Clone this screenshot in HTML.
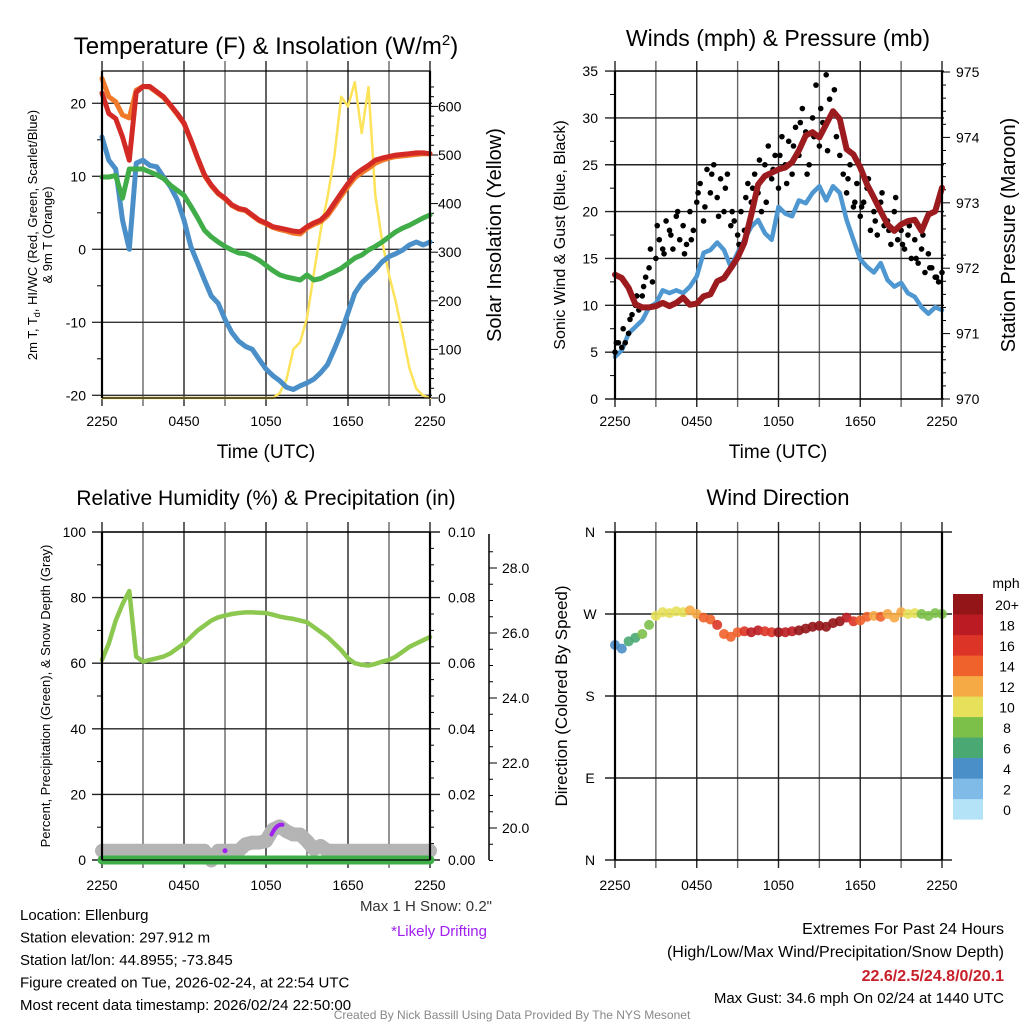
<!DOCTYPE html>
<html><head><meta charset="utf-8">
<style>
html,body{margin:0;padding:0;background:#fff;}
body{width:1024px;height:1024px;overflow:hidden;position:relative;font-family:"Liberation Sans",Arial,sans-serif;}
svg{position:absolute;left:0;top:0;}
svg text{font-family:"Liberation Sans",Arial,sans-serif;}
</style></head>
<body>
<svg id="s" width="1024" height="1024" viewBox="0 0 1024 1024"></svg>
<script>
// ---------- DATA ----------
const hours = [0,0.5,1,1.5,2,2.5,3,3.5,4,4.5,5,5.5,6,6.5,7,7.5,8,8.5,9,9.5,10,10.5,11,11.5,12,12.5,13,13.5,14,14.5,15,15.5,16,16.5,17,17.5,18,18.5,19,19.5,20,20.5,21,21.5,22,22.5,23,23.5,24];
const xTickLabels = ["2250","0450","1050","1650","2250"];
const tempRed = [21.4,18.6,17.9,15.4,12.2,21.5,22.3,22.3,21.6,20.9,19.8,18.6,17.3,15,12.5,10.2,8.8,7.7,7,6.1,5.6,5.4,4.7,4.0,3.6,3.1,2.9,2.7,2.5,2.4,3.1,3.6,4.0,4.9,6.3,7.7,9.0,10.2,10.9,11.5,12.2,12.5,12.7,12.9,13.0,13.1,13.2,13.2,13.1];
const temp9m = [23.4,20.9,20.2,18.4,18.0,21.8,22.3,22.2,21.5,20.8,19.7,18.5,17.2,14.9,12.4,10.1,8.7,7.6,6.9,6.0,5.5,5.3,4.6,3.9,3.5,3.0,2.7,2.5,2.2,2.1,2.9,3.4,3.8,4.6,5.9,7.3,8.6,9.8,10.5,11.1,11.8,12.2,12.5,12.7,12.8,12.9,13.0,13.1,13.1];
const dewpt = [9.9,9.9,10.1,7.0,11.0,11.0,11.0,10.6,10.2,9.7,8.8,8.1,7.4,5.9,4.3,2.6,1.7,1.0,0.4,-0.1,-0.5,-0.6,-1.0,-1.5,-2.2,-2.9,-3.5,-3.8,-4.0,-4.2,-3.5,-4.2,-4.0,-3.5,-3.1,-2.6,-1.9,-1.2,-0.8,-0.1,0.4,1.0,1.7,2.4,2.9,3.3,3.8,4.3,4.7];
const windChill = [15.4,12.2,11.0,4.0,0.0,11.8,12.2,11.5,11.3,9.9,8.6,6.8,4.0,0.4,-1.9,-4.2,-6.4,-7.4,-9.6,-11.4,-12.6,-13.3,-13.7,-15.1,-16.4,-17.3,-18.0,-18.9,-19.2,-18.7,-18.3,-17.8,-16.9,-15.8,-13.7,-11.4,-8.7,-6.0,-4.6,-3.7,-2.8,-1.7,-1.0,-0.6,-0.1,0.6,1.0,0.6,1.0];
const insolation = [0,0,0,0,0,0,0,0,0,0,0,0,0,0,0,0,0,0,0,0,0,0,0,0,0,0,10,38,100,115,165,255,345,413,496,620,600,650,545,640,417,322,253,198,130,61,19,5,0];
const tempTicks = [20,10,0,-10,-20];
const solarTicks = [0,100,200,300,400,500,600];

const windSpd = [4.5,5.2,7.0,7.7,8.4,9.8,10.2,11.6,11.3,11.6,11.3,12.0,13.1,15.6,15.9,16.7,15.9,14.1,15.6,17.0,18.4,19.1,17.7,17.0,20.5,19.8,19.5,21.2,20.9,22.0,22.7,21.2,22.7,22.0,19.1,17.0,14.9,14.1,13.5,14.5,12.7,12.0,12.4,11.3,10.9,9.8,9.1,9.8,9.5];
const pressure = [971.9,971.85,971.7,971.45,971.4,971.4,971.42,971.47,971.42,971.47,971.55,971.44,971.46,971.57,971.6,971.8,971.85,972.0,972.16,972.39,972.82,973.28,973.41,973.46,973.51,973.54,973.62,973.8,974.03,974.08,974.0,974.2,974.4,974.28,973.82,973.74,973.54,973.28,973.08,972.87,972.67,972.57,972.67,972.72,972.74,972.57,972.82,972.87,973.23];
const gustHours = [0,0.25,0.5,0.75,1,1.25,1.5,1.75,2,2.25,2.5,2.75,3,3.25,3.5,3.75,4,4.25,4.5,4.75,5,5.25,5.5,5.75,6,6.25,6.5,6.75,7,7.25,7.5,7.75,8,8.25,8.5,8.75,9,9.25,9.5,9.75,10,10.25,10.5,10.75,11,11.25,11.5,11.75,12,12.25,12.5,12.75,13,13.25,13.5,13.75,14,14.25,14.5,14.75,15,15.25,15.5,15.75,16,16.25,16.5,16.75,17,17.25,17.5,17.75,18,18.25,18.5,18.75,19,19.25,19.5,19.75,20,20.25,20.5,20.75,21,21.25,21.5,21.75,22,22.25,22.5,22.75,23,23.25,23.5,23.75,24];
const gustVals = [5,6,5.5,6,7,9,10,9.5,11,13,14,12.5,15,17,16,19,18,16,19.5,17,18.5,16.5,20,18,21,23,19,24.5,22,25,21.5,23.5,20,24,18.5,19,17.5,20,18,23,21,24,22,20,25,27,23.5,26,22.5,28,25,27.5,24,29,26,31,28.5,25,30,33.5,27,29.5,34.6,32,30.5,28,26,24,22,25,20.5,23,19.5,21,22.5,18,20,17.5,21,18.5,19,16.5,20,17,18,16,17.5,15,17,14.5,16,13.5,15.5,14,13,12.5,13.5];
const gustHours2 = [0.1,0.6,1.1,1.6,2.1,2.6,3.1,3.6,4.1,4.6,5.1,5.6,6.1,6.6,7.1,7.6,8.1,8.6,9.1,9.6,10.1,10.6,11.1,11.6,12.1,12.6,13.1,13.6,14.1,14.6,15.1,15.6,16.1,16.6,17.1,17.6,18.1,18.6,19.1,19.6,20.1,20.6,21.1,21.6,22.1,22.6,23.1,23.6];
const gustVals2 = [6,7.5,8.5,11,12,16,18.5,15.5,17.5,20,15.5,17,22,20.5,24,19.5,22.5,20,16.5,21.5,22.5,25.5,21,24.5,26,23,27,29.5,24,28,31,26.5,33,29,23.5,21,20.5,23.5,19,22,18,21.5,16.5,18.5,15,17.5,14,13];
const windTicks = [0,5,10,15,20,25,30,35];
const pressTicks = [970,971,972,973,974,975];

const rhVals = [61,66,73,78,82,62,60.5,61,61.5,62,63,64.5,66,68,70,71.5,73,74,74.5,75,75.3,75.5,75.5,75.4,75.3,74.8,74.2,73.8,73.5,73,72.5,71,69.5,68,66,64,61.5,60,59.5,59.3,59.8,60.5,61,62,63.5,65,66,67,68];
const precipVals = [0,0,0,0,0,0,0,0,0,0,0,0,0,0,0,0,0,0,0,0,0,0,0,0,0,0,0,0,0,0,0,0,0,0,0,0,0,0,0,0,0,0,0,0,0,0,0,0,0];
const snowDepth = [19.3,19.3,19.3,19.3,19.3,19.3,19.3,19.3,19.3,19.3,19.3,19.3,19.3,19.3,19.3,19.3,19.0,19.3,19.3,19.3,19.3,19.5,19.55,19.55,19.6,19.95,20.05,19.9,19.8,19.8,19.6,19.35,19.45,19.3,19.3,19.3,19.3,19.3,19.3,19.3,19.3,19.3,19.3,19.3,19.3,19.3,19.3,19.3,19.3];
const driftHours = [12.4,12.6,12.8,13.0,13.2];
const driftVals = [19.8,19.95,20.05,20.1,20.1];
const driftDotHour = [9.0];
const driftDotVal = [19.3];
const rhTicks = [0,20,40,60,80,100];
const precipTicks = ["0.00","0.02","0.04","0.06","0.08","0.10"];
const snowTicks = ["20.0","22.0","24.0","26.0","28.0"];

const windDir = [236,232,240,244,248,258,268,272,271,273,272,274,270,266,264,258,248,245,250,251,250,252,251,250,250,250,251,252,254,256,257,256,260,262,266,262,263,267,268,267,270,266,272,270,271,270,268,271,270];
const dirLabels = ["N","W","S","E","N"];
const speedBins = ["0","2","4","6","8","10","12","14","16","18","20+"];
const binColors = ["#b4e3f8","#7fbbe6","#4a8fc8","#4aa873","#7cc04a","#e6e05a","#f6aa45","#f0622b","#dc3527","#bb1c24","#931518"];

// ---------- HELPERS ----------
const S = document.getElementById('s');
const NS = 'http://www.w3.org/2000/svg';
function el(tag, attrs, parent, name){
  const e = document.createElementNS(NS, tag);
  for (const k in attrs) e.setAttribute(k, attrs[k]);
  
  
  (parent||S).appendChild(e);
  return e;
}
function txt(x,y,str,size,anchor,parent,name,extra){
  const a = {x:x,y:y,'font-size':size,'text-anchor':anchor||'middle',fill:'#000'};
  if (extra) for (const k in extra) a[k]=extra[k];
  const t = el('text', a, parent, name);
  t.textContent = str;
  return t;
}
function poly(xs, ys, color, w, parent, name){
  let d='';
  for (let i=0;i<xs.length;i++) d += (i?'L':'M') + xs[i].toFixed(1) + ' ' + ys[i].toFixed(1);
  return el('path',{d:d,fill:'none',stroke:color,'stroke-width':w,'stroke-linejoin':'round','stroke-linecap':'round'},parent,name);
}
function group(name){ return el('g',{},S,name); }
function frame(g, L, R, T, B, name){
  el('line',{x1:L,y1:T,x2:L,y2:B,stroke:'#000','stroke-width':2.2},g,name+'-left-axis');
  el('line',{x1:R,y1:T,x2:R,y2:B,stroke:'#000','stroke-width':2.2},g,name+'-right-axis');
  el('line',{x1:L,y1:T,x2:R,y2:T,stroke:'#000','stroke-width':1.2},g,name+'-top-border');
  el('line',{x1:L,y1:B,x2:R,y2:B,stroke:'#000','stroke-width':1.2},g,name+'-bottom-border');
}
function vgrid(g, L, R, T, B, name){
  for (let i=0;i<=8;i++){
    const x = L + (R-L)*i/8;
    el('line',{x1:x,y1:T-10,x2:x,y2:B+8,stroke:i%2?'#666':'#222','stroke-width':1.4},g,name+'-vgrid');
  }
}
function xTicks(g, L, R, y, name){
  for (let i=0;i<xTickLabels.length;i++){
    txt(L+(R-L)*i/4, y, xTickLabels[i], 14, 'middle', g, name+'-x-tick-label');
  }
}
function span(parent, str, attrs){
  const s = document.createElementNS(NS,'tspan');
  for (const k in attrs) s.setAttribute(k, attrs[k]);
  s.textContent = str;
  parent.appendChild(s);
  return s;
}

// ---------- PANEL 1 ----------
const P1 = {L:102,R:430,T:71,B:398};
const x1 = t => P1.L + t*(P1.R-P1.L)/24;
const yT = v => 249.3 - v*7.3;
const yS = w => 398 - w*0.486;
const g1 = group('temperature-panel');
vgrid(g1,P1.L,P1.R,P1.T,P1.B,'temp');
tempTicks.forEach(v=>{
  el('line',{x1:P1.L-10,y1:yT(v),x2:P1.R+2,y2:yT(v),stroke:'#333','stroke-width':1.4},g1,'temp-hgrid');
  txt(P1.L-16, yT(v)+5, String(v), 14, 'end', g1, 'temp-y-tick-label');
});
for (let v=-15; v<=20; v+=10) el('line',{x1:P1.L-5,y1:yT(v),x2:P1.L,y2:yT(v),stroke:'#000','stroke-width':1},g1,'temp-minor-tick');
for (let w=0; w<=640; w+=20) el('line',{x1:P1.R,y1:yS(w),x2:P1.R+(w%100?4:8),y2:yS(w),stroke:'#000','stroke-width':1},g1,'solar-tick');
solarTicks.forEach(w=>txt(P1.R+8, yS(w)+5, String(w), 14, 'start', g1, 'solar-y-tick-label'));
el('line',{x1:P1.L,y1:yT(-20.3),x2:P1.R,y2:yT(-20.3),stroke:'#000','stroke-width':1.2},g1,'temp-floor');
poly(hours.map(x1), insolation.map(yS), '#fde35a', 2.5, g1, 'insolation-line');
poly(hours.map(x1), windChill.map(yT), '#4a8fc8', 5, g1, 'windchill-line');
poly(hours.map(x1), dewpt.map(yT), '#41ad49', 5, g1, 'dewpoint-line');
poly(hours.map(x1), temp9m.map(yT), '#f07a2a', 5, g1, 'temp-9m-line');
poly(hours.map(x1), tempRed.map(yT), '#d42a26', 5, g1, 'temp-2m-line');
frame(g1,P1.L,P1.R,P1.T,P1.B,'temp');
xTicks(g1,P1.L,P1.R,426,'temp');
const t1 = txt(266, 54, 'Temperature (F) & Insolation (W/m', 24, 'middle', g1, 'temp-title');
span(t1,'2',{'font-size':'15','dy':'-9'});
span(t1,')',{'dy':'9'});
txt(266, 458, 'Time (UTC)', 19, 'middle', g1, 'temp-x-axis-title');
const yl = txt(0,0,'2m T, T',13,'middle',g1,'temp-y-axis-title',{transform:'translate(37,235) rotate(-90)'});
span(yl,'d',{'font-size':'9','dy':'3'});
span(yl,', HI/WC (Red, Green, Scarlet/Blue)',{'dy':'-3'});
txt(0,0,'& 9m T (Orange)',13,'middle',g1,'temp-y-axis-title-2',{transform:'translate(52,235) rotate(-90)'});
txt(0,0,'Solar Insolation (Yellow)',20,'middle',g1,'solar-y-axis-title',{transform:'translate(501,235) rotate(-90)'});

// ---------- PANEL 2 ----------
const P2 = {L:615,R:942,T:71,B:399};
const x2 = t => P2.L + t*(P2.R-P2.L)/24;
const yW = v => 399 - v*9.37;
const yP = p => 399 - (p-970)*65.4;
const g2 = group('winds-panel');
vgrid(g2,P2.L,P2.R,P2.T,P2.B,'wind');
windTicks.forEach(v=>{
  el('line',{x1:P2.L-10,y1:yW(v),x2:P2.R+2,y2:yW(v),stroke:'#222','stroke-width':1.4},g2,'wind-hgrid');
  txt(P2.L-17, yW(v)+5, String(v), 14, 'end', g2, 'wind-y-tick-label');
});
for (let v=2.5; v<35; v+=5) el('line',{x1:P2.L-5,y1:yW(v),x2:P2.L,y2:yW(v),stroke:'#000','stroke-width':1},g2,'wind-minor-tick');
for (let p=970; p<=975.01; p+=0.2) el('line',{x1:P2.R,y1:yP(p),x2:P2.R+(Math.abs(p-Math.round(p))<0.01?8:4),y2:yP(p),stroke:'#000','stroke-width':1},g2,'pressure-tick');
pressTicks.forEach(p=>txt(P2.R+14, yP(p)+5, String(p), 14, 'start', g2, 'pressure-y-tick-label'));
poly(hours.map(x2), windSpd.map(yW), '#4e97d1', 4.5, g2, 'sustained-wind-line');
gustHours.forEach((h,i)=>{
  const c = el('circle',{cx:x2(h),cy:yW(gustVals[i]),r:2.8,fill:'#000'},g2,'gust-dot');
  
});
gustHours2.forEach((h,i)=>{
  const c = el('circle',{cx:x2(h),cy:yW(gustVals2[i]),r:2.8,fill:'#000'},g2,'gust-dot');
  
});
poly(hours.map(x2), pressure.map(yP), '#9b1b1e', 6, g2, 'pressure-line');
frame(g2,P2.L,P2.R,P2.T,P2.B,'wind');
xTicks(g2,P2.L,P2.R,426,'wind');
txt(778, 46, 'Winds (mph) & Pressure (mb)', 23, 'middle', g2, 'winds-title');
txt(778, 458, 'Time (UTC)', 19, 'middle', g2, 'wind-x-axis-title');
txt(0,0,'Sonic Wind & Gust (Blue, Black)',16,'middle',g2,'wind-y-axis-title',{transform:'translate(565,235) rotate(-90)'});
txt(0,0,'Station Pressure (Maroon)',20,'middle',g2,'pressure-y-axis-title',{transform:'translate(1015,235) rotate(-90)'});

// ---------- PANEL 3 ----------
const P3 = {L:102,R:430,T:532,B:860};
const x3 = t => P3.L + t*(P3.R-P3.L)/24;
const yRH = v => 860 - v*3.28;
const yPr = v => 860 - v*3280;
const ySn = d => 828 - (d-20)*32.5;
const g3 = group('humidity-panel');
vgrid(g3,P3.L,P3.R,P3.T,P3.B,'rh');
rhTicks.forEach((v,i)=>{
  el('line',{x1:P3.L-10,y1:yRH(v),x2:P3.R+10,y2:yRH(v),stroke:'#222','stroke-width':1.4},g3,'rh-hgrid');
  txt(P3.L-16, yRH(v)+5, String(v), 14, 'end', g3, 'rh-y-tick-label');
  txt(P3.R+18, yRH(v)+5, precipTicks[i], 14, 'start', g3, 'precip-y-tick-label');
});
for (let v=10; v<100; v+=20){
  el('line',{x1:P3.L-5,y1:yRH(v),x2:P3.L,y2:yRH(v),stroke:'#000','stroke-width':1},g3,'rh-minor-tick');
}
for (let v=5; v<100; v+=5){ if (v%20) el('line',{x1:P3.R,y1:yRH(v),x2:P3.R+4,y2:yRH(v),stroke:'#000','stroke-width':1},g3,'precip-minor-tick'); }
el('line',{x1:489,y1:P3.T+2,x2:489,y2:P3.B,stroke:'#000','stroke-width':1.5},g3,'snow-axis');
for (let d=19; d<=28.6; d+=0.5){
  const major = Math.abs(d-Math.round(d))<0.01 && Math.round(d)%2===0;
  el('line',{x1:489,y1:ySn(d),x2:489+(major?8:4),y2:ySn(d),stroke:'#000','stroke-width':1},g3,'snow-tick');
}
snowTicks.forEach(s=>txt(502, ySn(parseFloat(s))+5, s, 14, 'start', g3, 'snow-y-tick-label'));
poly(hours.map(x3), snowDepth.map(ySn), '#b4b4b4', 14, g3, 'snow-depth-line');
poly(hours.map(x3), precipVals.map(yPr), '#3fae49', 9, g3, 'precip-line');
poly(driftHours.map(x3), driftVals.map(ySn), '#a020f0', 4, g3, 'drift-line');
driftDotHour.forEach((h,i)=>{
  const c = el('circle',{cx:x3(h),cy:ySn(driftDotVal[i]),r:2.5,fill:'#a020f0'},g3,'drift-dot');
  
});
poly(hours.map(x3), rhVals.map(yRH), '#8cc850', 4.5, g3, 'rh-line');
frame(g3,P3.L,P3.R,P3.T,P3.B,'rh');
xTicks(g3,P3.L,P3.R,890,'rh');
txt(266, 505, 'Relative Humidity (%) & Precipitation (in)', 21, 'middle', g3, 'rh-title');
txt(0,0,'Percent, Precipitation (Green), & Snow Depth (Gray)',13,'middle',g3,'rh-y-axis-title',{transform:'translate(50,696) rotate(-90)'});
txt(492, 911, 'Max 1 H Snow: 0.2"', 15, 'end', g3, 'max-snow-label',{fill:'#333'});
txt(487, 936, '*Likely Drifting', 15, 'end', g3, 'drifting-note',{fill:'#a020f0'});

// ---------- PANEL 4 ----------
const P4 = {L:615,R:942,T:532,B:860};
const x4 = t => P4.L + t*(P4.R-P4.L)/24;
const yD = d => 860 - d*328/360;
const g4 = group('direction-panel');
vgrid(g4,P4.L,P4.R,P4.T,P4.B,'dir');
dirLabels.forEach((lab,i)=>{
  const d = 360 - i*90;
  el('line',{x1:P4.L-10,y1:yD(d),x2:P4.R+10,y2:yD(d),stroke:'#222','stroke-width':1.4},g4,'dir-hgrid');
  txt(P4.L-25, yD(d)+5, lab, 14, 'middle', g4, 'dir-y-tick-label');
});
hours.forEach((h,i)=>{
  const bin = Math.min(10, Math.floor(windSpd[i]/2));
  const c = el('circle',{cx:x4(h),cy:yD(windDir[i]),r:5,fill:binColors[bin],opacity:0.9},g4,'dir-dot');
  
});
frame(g4,P4.L,P4.R,P4.T,P4.B,'dir');
xTicks(g4,P4.L,P4.R,890,'dir');
txt(778, 505, 'Wind Direction', 22, 'middle', g4, 'dir-title');
txt(0,0,'Direction (Colored By Speed)',17,'middle',g4,'dir-y-axis-title',{transform:'translate(567,696) rotate(-90)'});
const gc = group('speed-colorbar');
txt(1006, 588, 'mph', 14, 'middle', gc, 'colorbar-title');
speedBins.forEach((lab,i)=>{
  const yTop = 594 + (10-i)*20.5;
  el('rect',{x:953,y:yTop,width:30,height:20.6,fill:binColors[i]},gc,'colorbar-swatch');
  txt(1007, yTop+16, lab, 14, 'middle', gc, 'colorbar-label');
});

// ---------- FOOTER ----------
const gf = group('footer');
const info = ['Location: Ellenburg','Station elevation: 297.912 m','Station lat/lon: 44.8955; -73.845','Figure created on Tue, 2026-02-24, at 22:54 UTC','Most recent data timestamp: 2026/02/24 22:50:00'];
info.forEach((s,i)=>txt(20, 920+i*22.5, s, 15, 'start', gf, 'station-info-line'));
txt(1004, 934, 'Extremes For Past 24 Hours', 16, 'end', gf, 'extremes-title');
txt(1004, 957, '(High/Low/Max Wind/Precipitation/Snow Depth)', 16, 'end', gf, 'extremes-subtitle');
txt(1004, 981, '22.6/2.5/24.8/0/20.1', 16, 'end', gf, 'extremes-values',{fill:'#c8202a','font-weight':'bold'});
txt(1004, 1003, 'Max Gust: 34.6 mph On 02/24 at 1440 UTC', 15, 'end', gf, 'max-gust-label');
txt(512, 1019, 'Created By Nick Bassill Using Data Provided By The NYS Mesonet', 12, 'middle', gf, 'credit-line',{fill:'#888'});
</script>
</body></html>
